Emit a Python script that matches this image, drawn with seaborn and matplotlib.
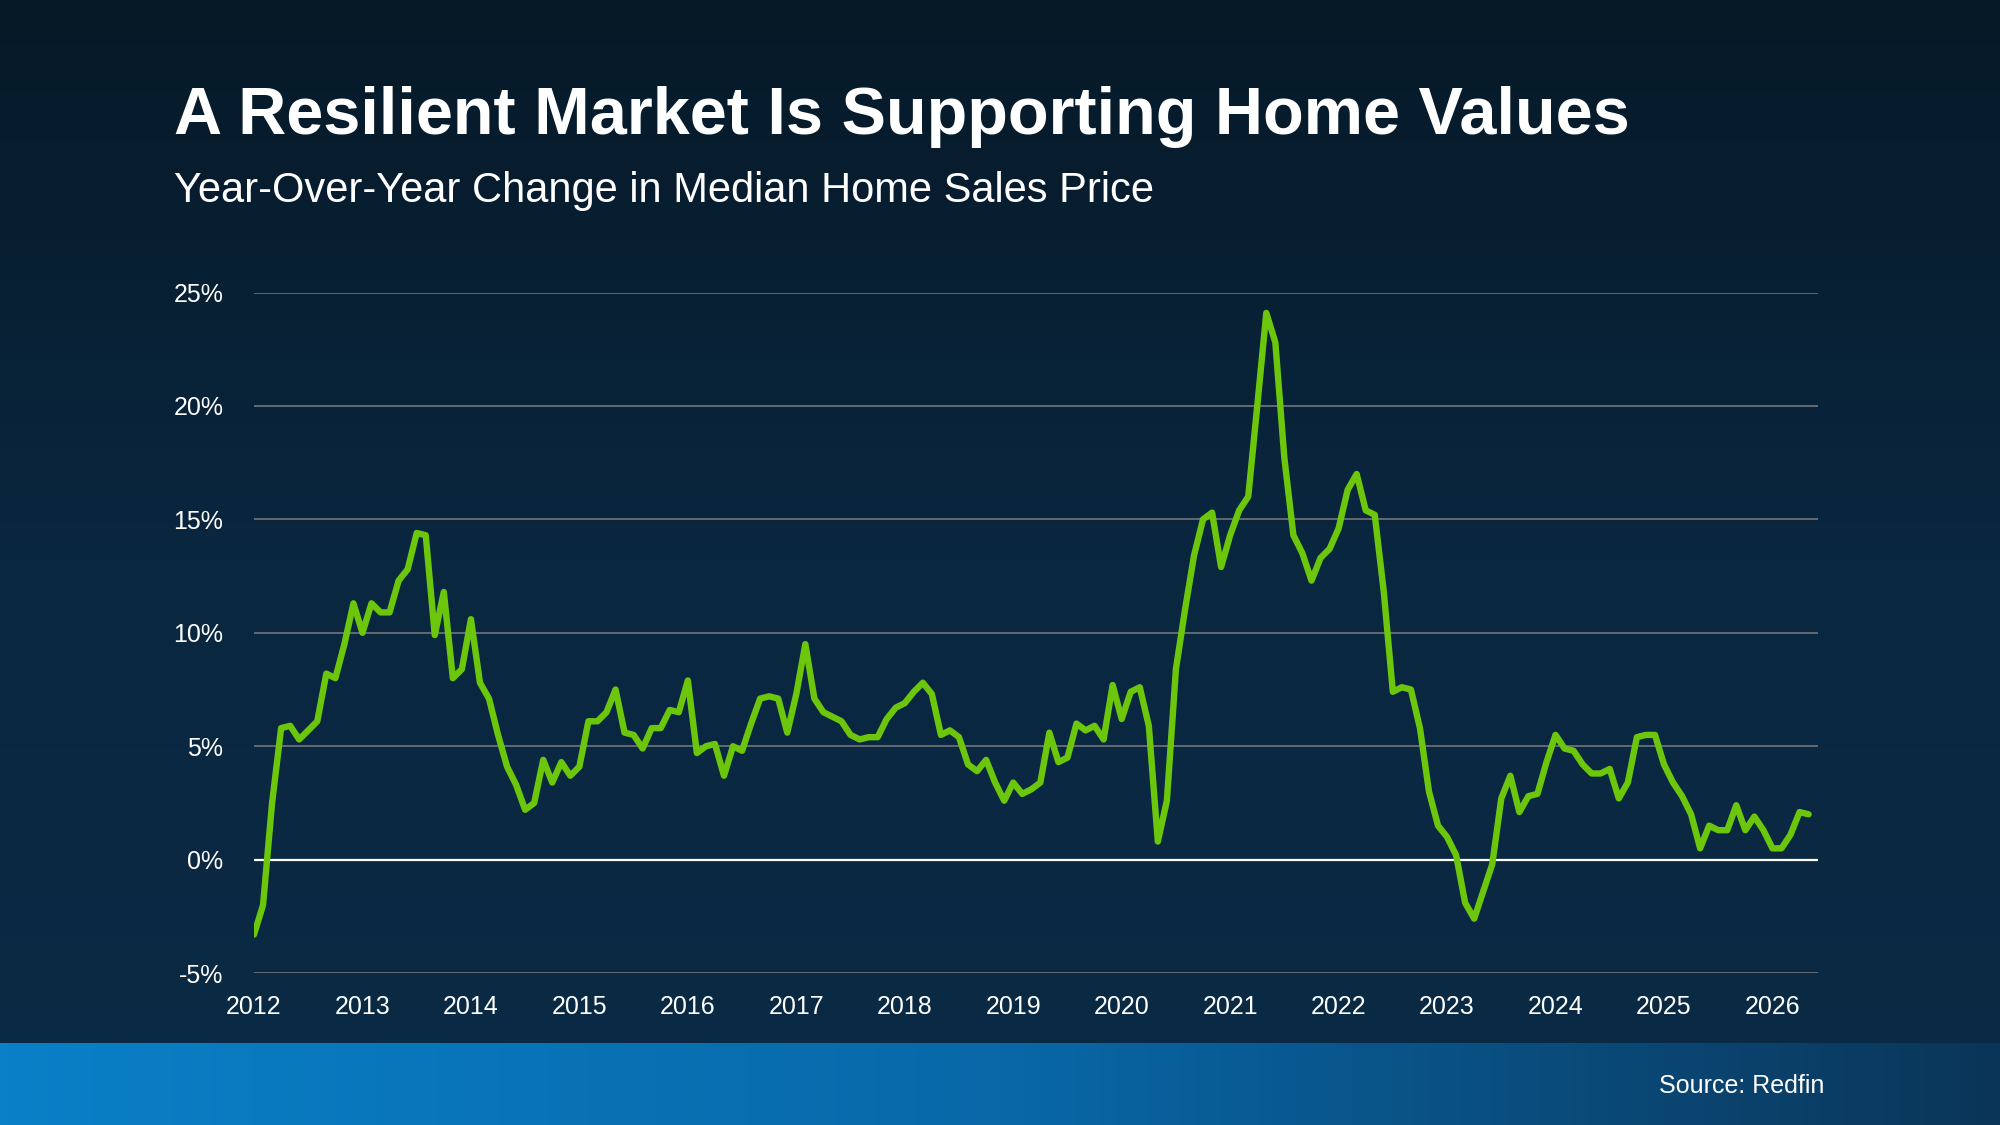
import numpy as np
import pandas as pd
import matplotlib
matplotlib.use("Agg")
import matplotlib.pyplot as plt
import seaborn as sns
from matplotlib.colors import LinearSegmentedColormap

start_year = 2012
yoy_change = [
    -3.3, -2.0, 2.5, 5.8, 5.9, 5.3, 5.7, 6.1, 8.2, 8.0, 9.5, 11.3,
    10.0, 11.3, 10.9, 10.9, 12.3, 12.8, 14.4, 14.3, 9.9, 11.8, 8.0, 8.4,
    10.6, 7.8, 7.1, 5.5, 4.1, 3.3, 2.2, 2.5, 4.4, 3.4, 4.3, 3.7,
    4.1, 6.1, 6.1, 6.5, 7.5, 5.6, 5.5, 4.9, 5.8, 5.8, 6.6, 6.5,
    7.9, 4.7, 5.0, 5.1, 3.7, 5.0, 4.8, 6.0, 7.1, 7.2, 7.1, 5.6,
    7.3, 9.5, 7.1, 6.5, 6.3, 6.1, 5.5, 5.3, 5.4, 5.4, 6.2, 6.7,
    6.9, 7.4, 7.8, 7.3, 5.5, 5.7, 5.4, 4.2, 3.9, 4.4, 3.4, 2.6,
    3.4, 2.9, 3.1, 3.4, 5.6, 4.3, 4.5, 6.0, 5.7, 5.9, 5.3, 7.7,
    6.2, 7.4, 7.6, 5.9, 0.8, 2.6, 8.4, 11.0, 13.4, 15.0, 15.3, 12.9,
    14.3, 15.4, 16.0, 20.0, 24.1, 22.8, 17.7, 14.3, 13.5, 12.3, 13.3, 13.7,
    14.6, 16.3, 17.0, 15.4, 15.2, 11.8, 7.4, 7.6, 7.5, 5.8, 3.0, 1.5,
    1.0, 0.2, -1.9, -2.6, -1.4, -0.2, 2.7, 3.7, 2.1, 2.8, 2.9, 4.3,
    5.5, 4.9, 4.8, 4.2, 3.8, 3.8, 4.0, 2.7, 3.4, 5.4, 5.5, 5.5,
    4.2, 3.4, 2.8, 2.0, 0.5, 1.5, 1.3, 1.3, 2.4, 1.3, 1.9, 1.3,
    0.5, 0.5, 1.1, 2.1, 2.0,
]
year_ticks = list(range(2012, 2027))
y_ticks = [-5, 0, 5, 10, 15, 20, 25]
y_tick_labels = ["-5%", "0%", "5%", "10%", "15%", "20%", "25%"]

df = pd.DataFrame({
    "t": [start_year + i / 12 for i in range(len(yoy_change))],
    "v": yoy_change,
})

sns.set_theme(style="dark")
plt.rcParams['font.family'] = ['Liberation Sans', 'DejaVu Sans']

fig = plt.figure(figsize=(20, 11.25), dpi=100)

bg = fig.add_axes([0, 0, 1, 1], zorder=-10)
grad = np.linspace(0, 1, 256).reshape(-1, 1)
cm_bg = LinearSegmentedColormap.from_list("bg", ["#061927", "#0a2740", "#0b2a45"])
bg.imshow(grad, aspect="auto", cmap=cm_bg, extent=[0, 1, 0, 1], origin="upper")
bg.set_axis_off()

band = fig.add_axes([0, 0, 1, 0.073], zorder=-5)
hgrad = np.linspace(0, 1, 256).reshape(1, -1)
cm_band = LinearSegmentedColormap.from_list("band", ["#0a80c8", "#0868a8", "#0b3558"])
band.imshow(hgrad, aspect="auto", cmap=cm_band, extent=[0, 1, 0, 1])
band.set_axis_off()

fig.text(0.087, 0.896, "A Resilient Market Is Supporting Home Values",
         color="white", fontsize=48, fontweight="bold", va="center", ha="left")
fig.text(0.087, 0.830, "Year-Over-Year Change in Median Home Sales Price",
         color="white", fontsize=30, va="center", ha="left")
fig.text(0.912, 0.035, "Source: Redfin", color="white", fontsize=18,
         va="center", ha="right")

ax = fig.add_axes([0.127, 0.135, 0.782, 0.605])
ax.set_facecolor("none")
for y in y_ticks:
    ax.axhline(y, color="white" if y == 0 else "#6b6f73",
               lw=1.6 if y == 0 else 1.3, zorder=1)
sns.lineplot(data=df, x="t", y="v", ax=ax, color="#6cc70c", lw=4.6, zorder=3)
ax.set_xlim(2012, 2026.42)
ax.set_ylim(-5, 25)
ax.set_xticks(year_ticks)
ax.set_xticklabels([str(y) for y in year_ticks])
ax.set_yticks(y_ticks)
ax.set_yticklabels(y_tick_labels)
ax.tick_params(colors="white", labelsize=18, length=0)
ax.tick_params(axis="x", pad=16)
ax.tick_params(axis="y", pad=22)
ax.set_xlabel("")
ax.set_ylabel("")
ax.grid(False)
for s in ax.spines.values():
    s.set_visible(False)

fig.savefig("out.png", dpi=100)
